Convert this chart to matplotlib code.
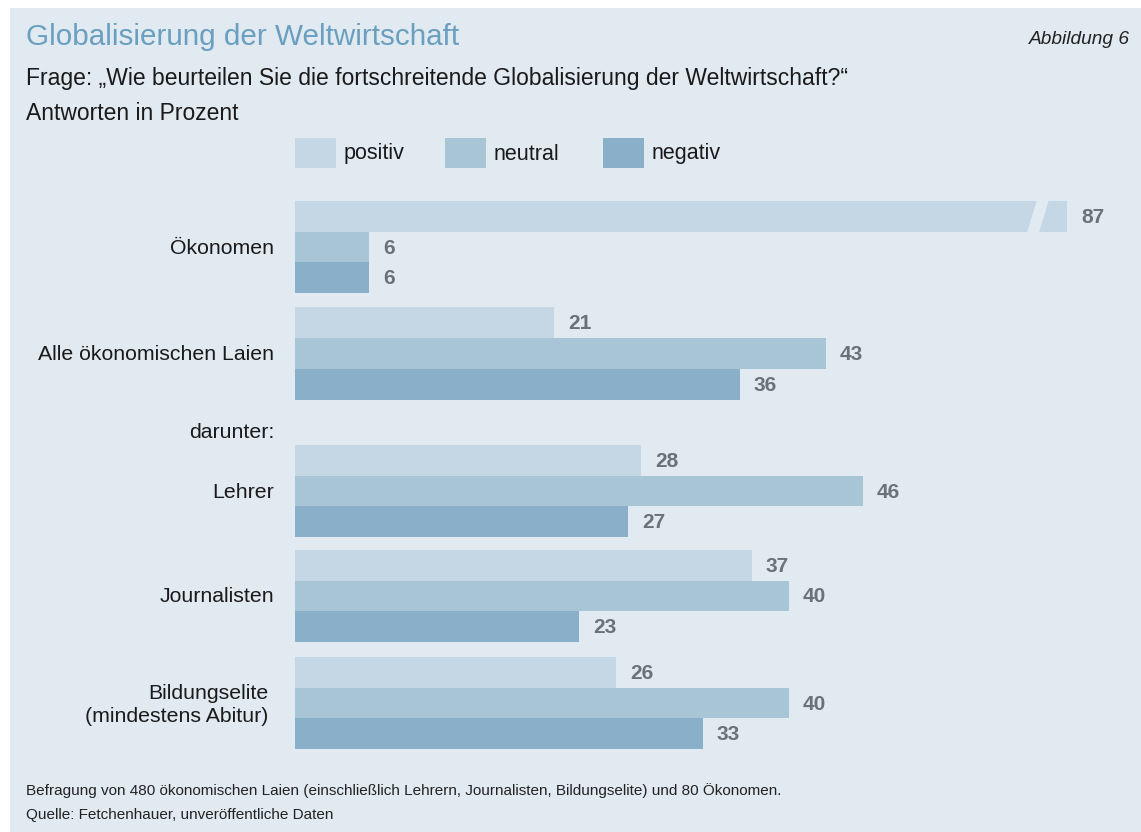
import matplotlib
matplotlib.use("Agg")
import matplotlib.pyplot as plt
from matplotlib.patches import Rectangle, Polygon

# ---- data ----
categories = ["Ökonomen", "Alle ökonomischen Laien", "Lehrer", "Journalisten",
              "Bildungselite\n(mindestens Abitur)"]
series_names = ["positiv", "neutral", "negativ"]
positiv = [87, 21, 28, 37, 26]
neutral = [6, 43, 46, 40, 40]
negativ = [6, 36, 27, 23, 33]
series_values = [positiv, neutral, negativ]

# ---- style / layout ----
W, H = 1141, 832
DPI = 100
BG = "#e1e9f1"
COLORS = ["#c5d7e4", "#a8c5d6", "#8aafc9"]
TITLE_C = "#6a9fc0"
VAL_C = "#6b7178"
FONT = "Liberation Sans"
plt.rcParams["font.family"] = [FONT, "DejaVu Sans"]

px_per_unit = 12.35
x0_px = 295
bar_h = 30.8
group_centers = [247, 353.5, 491, 596, 703]   # pixel layout positions
label_right = [274, 274, 274, 274, 268]
label_dy = [1, 1, 1, 1, 2]
break_at = (1067 - x0_px) / px_per_unit   # value where the broken bar is truncated

fig = plt.figure(figsize=(W / DPI, H / DPI), dpi=DPI, facecolor="white")
fig.patches.append(Rectangle((10 / W, 0), 1 - 10 / W, 1 - 8 / H,
                             transform=fig.transFigure, facecolor=BG,
                             edgecolor="none", zorder=-5))

ax = fig.add_axes([x0_px / W, 0, 1 - x0_px / W, 1])
ax.set_zorder(2)
ax.set_xlim(0, (W - x0_px) / px_per_unit)
ax.set_ylim(H, 0)
ax.axis("off")
ax.patch.set_alpha(0)

u = 1 / px_per_unit
for si, (vals, col) in enumerate(zip(series_values, COLORS)):
    ys = [c + (si - 1) * bar_h for c in group_centers]
    widths = [min(v, break_at) for v in vals]
    ax.barh(ys, widths, height=bar_h, color=col, edgecolor="none")
    for y, v, w in zip(ys, vals, widths):
        ax.text(w + 14 * u, y + 1, f"{v}", ha="left", va="center",
                fontsize=15, fontweight="bold", color=VAL_C)
        if v > break_at:
            # slanted break gap
            top, bot = y - bar_h / 2 - 1, y + bar_h / 2 + 1
            ax.add_patch(Polygon([(w - 30 * u, top), (w - 18 * u, top),
                                  (w - 28 * u, bot), (w - 40 * u, bot)],
                                 closed=True, facecolor=BG, edgecolor="none",
                                 zorder=3))

# category labels
for c, lab, xr, dy in zip(group_centers, categories, label_right, label_dy):
    fig.text(xr / W, 1 - (c + dy) / H, lab, ha="right", va="center",
             fontsize=15.3, color="#1a1a1a", linespacing=1.3)
fig.text(274 / W, 1 - 432 / H, "darunter:", ha="right", va="center",
         fontsize=15.3, color="#1a1a1a")

# titles
fig.text(26 / W, 1 - 37 / H, "Globalisierung der Weltwirtschaft", ha="left",
         va="center", fontsize=21.3, color=TITLE_C)
fig.text(1130 / W, 1 - 39 / H, "Abbildung 6", ha="right", va="center",
         fontsize=13.8, style="italic", color="#222222")
fig.text(26 / W, 1 - 79 / H,
         "Frage: \u201eWie beurteilen Sie die fortschreitende Globalisierung der Weltwirtschaft?\u201c",
         ha="left", va="center", fontsize=16.5, color="#1a1a1a")
fig.text(26 / W, 1 - 113 / H, "Antworten in Prozent", ha="left", va="center",
         fontsize=16.5, color="#1a1a1a")

# legend
leg_x = [295, 445, 603]
for lx, name, col in zip(leg_x, series_names, COLORS):
    fig.patches.append(Rectangle((lx / W, 1 - 168 / H), 41 / W, 30 / H,
                                 transform=fig.transFigure, facecolor=col,
                                 edgecolor="none", zorder=1))
    fig.text((lx + 49) / W, 1 - 154 / H, name, ha="left", va="center",
             fontsize=15.5, color="#1a1a1a")

# footer
fig.text(26 / W, 1 - 791 / H,
         "Befragung von 480 ökonomischen Laien (einschließlich Lehrern, Journalisten, Bildungselite) und 80 Ökonomen.",
         ha="left", va="center", fontsize=11, color="#222222")
fig.text(26 / W, 1 - 815 / H, "Quelle: Fetchenhauer, unveröffentliche Daten",
         ha="left", va="center", fontsize=11, color="#222222")

fig.savefig("out.png", dpi=DPI, facecolor="white")
